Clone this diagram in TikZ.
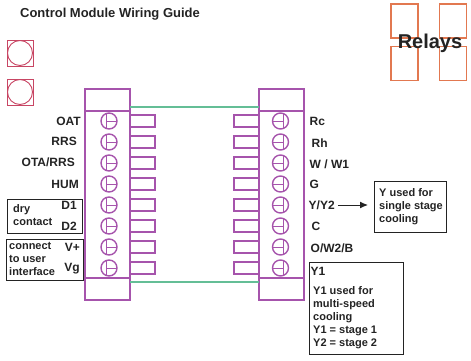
\documentclass[tikz,border=0pt]{standalone}
\usepackage{fontspec}
\setmainfont{Liberation Sans}
\usetikzlibrary{positioning,arrows.meta}
\definecolor{modpurple}{RGB}{166,84,172}
\definecolor{relayorange}{RGB}{226,120,80}
\definecolor{sensred}{RGB}{200,70,100}
\definecolor{busgreen}{RGB}{100,190,150}
\definecolor{inkgrey}{RGB}{35,35,35}
\tikzset{
  blockbox/.style={draw=modpurple,line width=1.5pt,minimum width=45pt,inner sep=0pt,outer sep=0pt},
  terminal/.style={circle,draw=modpurple,line width=1.4pt,minimum size=16pt,inner sep=0pt,outer sep=0pt},
  lterm/.style={terminal,path picture={\draw[modpurple,line width=.9pt] (-3pt,-9pt) -- (-3pt,9pt) (-3pt,0pt) -- (9pt,0pt);}},
  rterm/.style={terminal,path picture={\draw[modpurple,line width=.9pt] (2.5pt,-9pt) -- (2.5pt,9pt) (2.5pt,0pt) -- (-9pt,0pt);}},
  tabbox/.style={draw=modpurple,line width=1.4pt,minimum width=25pt,minimum height=12pt,inner sep=0pt,outer sep=0pt},
  pinlbl/.style={font=\bfseries\fontsize{12}{14}\selectfont,text=inkgrey,inner sep=0pt},
  notebox/.style={draw=inkgrey,line width=1pt,inner sep=0pt,outer sep=0pt},
  notetext/.style={font=\bfseries\fontsize{11}{13}\selectfont,text=inkgrey,align=left,inner sep=0pt},
  relaybox/.style={draw=relayorange,line width=1.3pt,minimum width=27pt,minimum height=34pt,inner sep=0pt},
  sensbox/.style={draw=sensred,line width=.9pt,minimum size=26pt,inner sep=0pt},
  senscirc/.style={circle,draw=sensred,line width=.9pt,minimum size=25pt,inner sep=0pt},
}
\begin{document}
\begin{tikzpicture}[x=1pt,y=-1pt]
    \useasboundingbox (0,0) rectangle (471,361);
    \node[font=\bfseries\fontsize{13}{14}\selectfont,text=inkgrey,inner sep=0pt] (title) at (110,14) {Control Module Wiring Guide};

    % sensors
    \node[sensbox] (sensa) at (20,53) {};
    \node[senscirc] (circa) at (20,53) {};
    \node[sensbox] (sensb) at (20,92) {};
    \node[senscirc] (circb) at (20,92) {};

    % relays
    \node[relaybox] (relaya) at (404.5,21) {};
    \node[relaybox] (relayb) at (453,21) {};
    \node[relaybox,below=7pt of relaya] (relayc) {};
    \node[relaybox,below=7pt of relayb] (relayd) {};
    \node[font=\bfseries\fontsize{20}{24}\selectfont,text=inkgrey,inner sep=0pt] (relays) at (430,43) {Relays};

    % module blocks
    \node[blockbox,minimum height=22pt] (ltop) at (107.5,100) {};
    \node[blockbox,minimum height=167pt,below=0pt of ltop] (lbody) {};
    \node[blockbox,minimum height=22pt,below=0pt of lbody] (lbot) {};
    \node[blockbox,minimum height=22pt] (rtop) at (281.5,100) {};
    \node[blockbox,minimum height=167pt,below=0pt of rtop] (rbody) {};
    \node[blockbox,minimum height=22pt,below=0pt of rbody] (rbot) {};

    \coordinate (greena) at (130,107);
    \coordinate (greenb) at (259,107);
    \coordinate (greenc) at (130,282);
    \coordinate (greend) at (259,282);
    \draw[busgreen,line width=1.7pt] (greena) -- (greenb);
    \draw[busgreen,line width=1.7pt] (greenc) -- (greend);

    % left terminals
    \node[lterm] (oat) at (109,121) {};
    \node[lterm,below=5pt of oat] (rrs) {};
    \node[lterm,below=5pt of rrs] (ota) {};
    \node[lterm,below=5pt of ota] (hum) {};
    \node[lterm,below=5pt of hum] (done) {};
    \node[lterm,below=5pt of done] (dtwo) {};
    \node[lterm,below=5pt of dtwo] (vplus) {};
    \node[lterm,below=5pt of vplus] (vg) {};

    % right terminals
    \node[rterm] (rc) at (280.5,121) {};
    \node[rterm,below=5pt of rc] (rh) {};
    \node[rterm,below=5pt of rh] (wone) {};
    \node[rterm,below=5pt of wone] (g) {};
    \node[rterm,below=5pt of g] (ytwo) {};
    \node[rterm,below=5pt of ytwo] (c) {};
    \node[rterm,below=5pt of c] (owb) {};
    \node[rterm,below=5pt of owb] (yone) {};

    % tabs
    \node[tabbox,right=13pt of oat] (taba) {};
    \node[tabbox,right=13pt of rrs] (tabb) {};
    \node[tabbox,right=13pt of ota] (tabc) {};
    \node[tabbox,right=13pt of hum] (tabd) {};
    \node[tabbox,right=13pt of done] (tabe) {};
    \node[tabbox,right=13pt of dtwo] (tabf) {};
    \node[tabbox,right=13pt of vplus] (tabg) {};
    \node[tabbox,right=13pt of vg] (tabh) {};
    \node[tabbox,left=13.5pt of rc] (tabi) {};
    \node[tabbox,left=13.5pt of rh] (tabj) {};
    \node[tabbox,left=13.5pt of wone] (tabk) {};
    \node[tabbox,left=13.5pt of g] (tabl) {};
    \node[tabbox,left=13.5pt of ytwo] (tabm) {};
    \node[tabbox,left=13.5pt of c] (tabn) {};
    \node[tabbox,left=13.5pt of owb] (tabo) {};
    \node[tabbox,left=13.5pt of yone] (tabp) {};

    % pin labels
    \node[pinlbl,left=20pt of oat] (oatl) {OAT};
    \node[pinlbl,left=24pt of rrs,yshift=1pt] (rrsl) {RRS};
    \node[pinlbl,left=26pt of ota,yshift=1pt] (otal) {OTA/RRS};
    \node[pinlbl,left=22pt of hum] (huml) {HUM};
    \node[pinlbl,left=24pt of done] (donel) {D1};
    \node[pinlbl,left=24pt of dtwo] (dtwol) {D2};
    \node[pinlbl,left=21pt of vplus] (vplusl) {V+};
    \node[pinlbl,left=21pt of vg,yshift=-1pt] (vgl) {Vg};
    \node[pinlbl,right=21pt of rc] (rcl) {Rc};
    \node[pinlbl,right=23pt of rh,yshift=-1pt] (rhl) {Rh};
    \node[pinlbl,right=21pt of wone,yshift=-1pt] (wonel) {W / W1};
    \node[pinlbl,right=21pt of g] (gl) {G};
    \node[pinlbl,right=20pt of ytwo] (ytwol) {Y/Y2};
    \node[pinlbl,right=23pt of c] (cl) {C};
    \node[pinlbl,right=22pt of owb,yshift=-1pt] (owbl) {O/W2/B};
    \node[pinlbl,right=22pt of yone,yshift=-3pt] (yonel) {Y1};

    % note boxes
    \node[notebox,minimum width=75pt,minimum height=34pt] (drybox) at (44.5,216) {};
    \node[notetext,anchor=north west] (drytext) at (13,204) {dry\\contact};
    \node[notebox,minimum width=77pt,minimum height=41pt] (connbox) at (44.5,259.5) {};
    \node[notetext,anchor=north west] (conntext) at (9,242) {connect\\to user\\interface};
    \node[notebox,minimum width=72pt,minimum height=51pt] (ybox) at (410,206.5) {};
    \node[notetext,anchor=north west] (ytext) at (379,188) {Y used for\\single stage\\cooling};
    \node[notebox,minimum width=94pt,minimum height=92pt] (yonebox) at (356,308) {};
    \node[notetext,anchor=north west] (yonetext) at (313,286) {Y1 used for\\multi-speed\\cooling\\Y1 = stage 1\\Y2 = stage 2};

    \draw[-{Latex[length=8pt,width=7pt]},inkgrey,line width=1pt,shorten <=3pt,shorten >=6pt] (ytwol) -- (ytwol -| ybox.west);
\end{tikzpicture}
\end{document}
